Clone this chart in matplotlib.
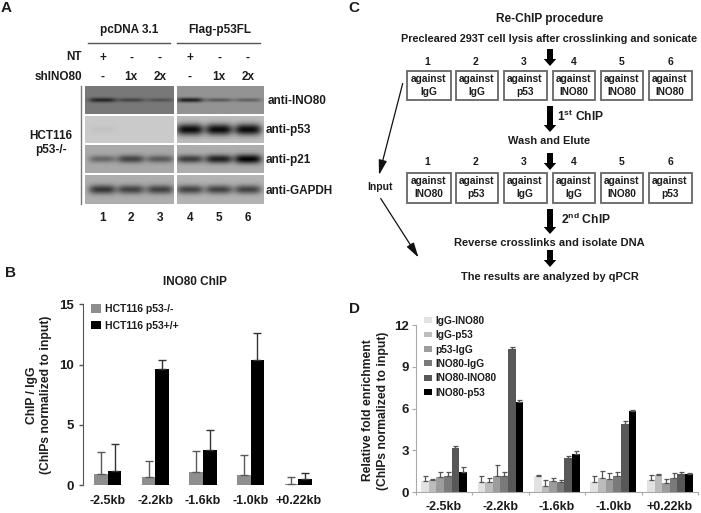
import numpy as np
import matplotlib
matplotlib.use('Agg')
import matplotlib.pyplot as plt
from matplotlib.patches import Rectangle, FancyArrow

plt.rcParams['font.family'] = ['Liberation Sans', 'DejaVu Sans']
plt.rcParams['font.weight'] = 'bold'
plt.rcParams['mathtext.fontset'] = 'custom'
plt.rcParams['mathtext.bf'] = 'Liberation Sans:bold'
plt.rcParams['mathtext.rm'] = 'Liberation Sans:bold'

W, H = 701, 513
TXT = '#1c1c1c'

# ---------- data ----------
sites_b = ['-2.5kb', '-2.2kb', '-1.6kb', '-1.0kb', '+0.22kb']
b_null = [0.9, 0.7, 1.1, 0.85, 0.1]
b_wt = [1.2, 9.65, 2.95, 10.35, 0.5]
b_null_top = [2.75, 2.05, 2.85, 2.5, 0.7]
b_wt_top = [3.45, 10.35, 4.6, 12.6, 1.0]

d_labels = ['IgG-INO80', 'IgG-p53', 'p53-IgG', 'INO80-IgG', 'INO80-INO80', 'INO80-p53']
d_igg_ino = [0.8, 0.75, 1.2, 0.75, 0.9]
d_igg_p53 = [0.85, 0.75, 0.45, 1.0, 1.25]
d_p53_igg = [1.1, 1.2, 0.8, 0.95, 0.7]
d_ino_igg = [1.15, 1.15, 0.75, 1.15, 1.0]
d_ino_ino = [3.15, 10.3, 2.45, 4.9, 1.3]
d_ino_p53 = [1.45, 6.45, 2.75, 5.8, 1.3]
d_igg_ino_top = [1.15, 1.2, 1.25, 1.2, 1.25]
d_igg_p53_top = [0.95, 1.0, 0.85, 1.55, 1.3]
d_p53_igg_top = [1.45, 1.95, 1.05, 1.4, 0.95]
d_ino_igg_top = [1.45, 1.45, 0.85, 1.45, 1.4]
d_ino_ino_top = [3.35, 10.45, 2.6, 5.15, 1.45]
d_ino_p53_top = [1.85, 6.65, 2.95, 5.9, 1.35]

blot_ino80 = [0.8, 0.5, 0.35, 0.9, 0.45, 0.4]
blot_p53 = [0.04, 0.0, 0.0, 1.1, 1.1, 1.1]
blot_p21 = [0.45, 0.7, 0.55, 0.75, 0.95, 1.15]
blot_gapdh = [0.8, 0.72, 0.72, 0.72, 0.72, 0.72]

fig = plt.figure(figsize=(W / 100, H / 100), dpi=100, facecolor='white')


def axpx(x0, y0, x1, y1, **kw):
    return fig.add_axes([x0 / W, 1 - y1 / H, (x1 - x0) / W, (y1 - y0) / H], **kw)


ov = axpx(0, 0, W, H)
ov.set_xlim(0, W)
ov.set_ylim(H, 0)
ov.axis('off')


def T(x, y, s, size=9, ha='center', va='center', **kw):
    ov.text(x, y, s, fontsize=size, ha=ha, va=va, color=TXT, fontweight='bold', **kw)


# ---------- panel letters ----------
for x, y, s in [(6, 8, 'A'), (11, 273, 'B'), (354, 8, 'C'), (354, 309, 'D')]:
    T(x, y, s, size=11)

# ---------- panel A ----------
T(129, 30, 'pcDNA 3.1', 8.5)
T(220, 30, 'Flag-p53FL', 8.5)
ov.plot([88, 170], [43, 43], color='#555555', lw=1)
ov.plot([176.5, 260], [43, 43], color='#555555', lw=1)
T(82, 57.5, 'NT', 8.5, ha='right')
T(82, 77, 'shINO80', 8.5, ha='right')
lanes = [102.5, 131, 160, 190, 219, 248]
for xp, a, b, n in zip(lanes, ['+', '-', '-', '+', '-', '-'],
                       ['-', '1x', '2x', '-', '1x', '2x'], '123456'):
    T(xp, 57.5, a, 8.5)
    T(xp, 77, b, 8.5)
    T(xp, 218, n, 8.5)
ov.plot([80.5, 80.5], [86, 204], color='#777777', lw=1)
T(51, 136, 'HCT116', 8.5)
T(51, 150, 'p53-/-', 8.5)

rows = [(86, 114, blot_ino80, 0.47, 0.58, 2.2, 'anti-INO80', 268),
        (116, 143, blot_p53, 0.79, 0.74, 5.0, 'anti-p53', 266),
        (145, 173, blot_p21, 0.66, 0.68, 4.0, 'anti-p21', 266),
        (175, 204, blot_gapdh, 0.68, 0.70, 4.5, 'anti-GAPDH', 266)]
panels = [(85, 174, 0, 3), (177, 264, 3, 6)]
for y0, y1, vals, bgl, bgr, sig, lab, lx in rows:
    for (x0, x1, i0, i1), bg in zip(panels, (bgl, bgr)):
        xs = np.arange(x0, x1) + 0.5
        ys = np.arange(y0, y1) + 0.5
        gx, gy = np.meshgrid(xs, ys)
        img = np.full(gx.shape, bg, dtype=float)
        yc = (y0 + y1) / 2
        for k in range(i0, i1):
            s = sig * (0.75 + 0.35 * vals[k])
            band = np.exp(-((gx - lanes[k]) / 13.5) ** 4) * np.exp(-((gy - yc) / s) ** 2)
            img -= band * vals[k] * bg * 0.85
        ov.imshow(np.clip(img, 0, 1), extent=(x0, x1, y1, y0), cmap='gray', vmin=0, vmax=1,
                  aspect='auto', interpolation='bilinear')
    T(lx, (y0 + y1) / 2 + 1, lab, 8.5, ha='left')
ov.set_xlim(0, W)
ov.set_ylim(H, 0)

# ---------- panel B ----------
T(195, 282, 'INO80 ChIP', 8.5)
axb = axpx(82.7, 304.3, 322, 485.3)
x = np.arange(len(sites_b))
bw = 0.285
nul = np.array(b_null)
wt = np.array(b_wt)
h1 = axb.bar(x - bw / 2, nul, bw, color='#8e8e8e', label='HCT116 p53-/-',
             yerr=[np.zeros(5), np.array(b_null_top) - nul],
             error_kw=dict(ecolor='#5a5a5a', elinewidth=1, capsize=3.2, capthick=1))
h2 = axb.bar(x + bw / 2, wt, bw, color='#000000', label='HCT116 p53+/+',
             yerr=[np.zeros(5), np.array(b_wt_top) - wt],
             error_kw=dict(ecolor='#333333', elinewidth=1, capsize=3.2, capthick=1))
axb.set_xlim(-0.526, 4.5)
axb.set_ylim(0, 15)
axb.set_yticks([0, 5, 10, 15])
axb.set_xticks(x)
axb.set_xticklabels(sites_b)
axb.tick_params(axis='y', labelsize=9.5, length=3.2, width=1, color='#555555', pad=3)
axb.tick_params(axis='x', labelsize=9, length=0, pad=7)
for s in ('top', 'right', 'bottom'):
    axb.spines[s].set_visible(False)
axb.spines['left'].set_color('#555555')
for t in axb.get_xticklabels() + axb.get_yticklabels():
    t.set_color(TXT)
T(32, 395, 'ChIP / IgG', 8.7, rotation=90)
T(46, 395, '(ChIPs normalized to input)', 8.7, rotation=90)
axb.legend(loc='upper left', bbox_to_anchor=(0.033, 1.0), frameon=False, fontsize=7.5,
           handlelength=0.96, handleheight=0.87, labelspacing=0.6, handletextpad=0.45,
           borderpad=0, borderaxespad=0, labelcolor=TXT)

# ---------- panel C ----------
CX = 549.5
T(CX, 19, 'Re-ChIP procedure', 8.6)
T(CX, 39, 'Precleared 293T cell lysis after crosslinking and sonicate', 7.85)
T(CX, 141, 'Wash and Elute', 7.9)
T(CX, 242.5, 'Reverse crosslinks and isolate DNA', 8.0)
T(CX, 277, 'The results are analyzed by qPCR', 7.9)
T(350 + 620 / 3, 116.5, r'1$^{\mathbf{st}}$ ChIP', 8.7, ha='left')
T(350 + 632 / 3, 219, r'2$^{\mathbf{nd}}$ ChIP', 8.7, ha='left')
T(380, 187, 'Input', 7.5)

box_x = [(407.3, 450.7), (456, 498), (504, 546.7), (552.7, 595), (600.7, 643), (649, 692)]
first = ['IgG', 'IgG', 'p53', 'INO80', 'INO80', 'INO80']
second = ['INO80', 'p53', 'IgG', 'IgG', 'INO80', 'p53']
for (y0, y1, ny, names) in [(71, 100, 62, first), (173, 203, 162, second)]:
    for i, ((a, b), nm) in enumerate(zip(box_x, names)):
        ov.add_patch(Rectangle((a, y0), b - a, y1 - y0, fc='white', ec='#666666', lw=1.3))
        T((a + b) / 2 - 0.5, y0 + 8.5, 'against', 7.3)
        T((a + b) / 2 - 0.5, y0 + 21, nm, 7.3)
        T((a + b) / 2 + (-1 if i < 3 else 0) - 0.5, ny, str(i + 1), 7.5)

for y0, y1 in [(49, 66), (106, 132), (153, 170), (209, 234), (250, 267)]:
    ov.add_patch(FancyArrow(550, y0, 0, y1 - y0, width=6, head_width=12.5, head_length=7,
                            length_includes_head=True, fc='black', ec='none'))
for (a, b), (c, d) in [((402.7, 83.5), (379, 175)), ((380.7, 198.5), (418.5, 257.5))]:
    ov.annotate('', xy=(c, d), xytext=(a, b),
                arrowprops=dict(arrowstyle='-|>,head_length=0.9,head_width=0.25',
                                color='#111111', lw=0.9, shrinkA=0, shrinkB=0))

# ---------- panel D ----------
axd = axpx(415.7, 325, 698, 492.3)
series = [(d_igg_ino, d_igg_ino_top, '#e2e2e2'), (d_igg_p53, d_igg_p53_top, '#bcbcbc'),
          (d_p53_igg, d_p53_igg_top, '#9c9c9c'), (d_ino_igg, d_ino_igg_top, '#7a7a7a'),
          (d_ino_ino, d_ino_ino_top, '#585858'), (d_ino_p53, d_ino_p53_top, '#000000')]
bwd = 0.135
ekd = dict(ecolor='#555555', elinewidth=0.9, capsize=1.8, capthick=0.9)
for i, (v, tp, c) in enumerate(series):
    v = np.array(v)
    axd.bar(x + (i - 2.5) * bwd, v, bwd, color=c, label=d_labels[i],
            yerr=[np.zeros(5), np.array(tp) - v], error_kw=ekd)
axd.set_xlim(-0.5, 4.5)
axd.set_ylim(0, 12)
axd.set_yticks([0, 3, 6, 9, 12])
axd.set_xticks(x)
axd.set_xticklabels(sites_b)
axd.set_xticks(np.arange(-0.5, 5), minor=True)
axd.tick_params(axis='x', which='major', length=0, labelsize=9, pad=6.5)
axd.tick_params(axis='x', which='minor', length=2.5, width=0.8, color='#aaaaaa')
axd.tick_params(axis='y', labelsize=9.5, length=3, width=0.8, color='#aaaaaa', pad=2)
for s in ('top', 'right'):
    axd.spines[s].set_visible(False)
axd.spines['left'].set_color('#aaaaaa')
axd.spines['bottom'].set_color('#aaaaaa')
for t in axd.get_xticklabels() + axd.get_yticklabels():
    t.set_color(TXT)
T(368, 410.5, 'Relative fold enrichment', 8.7, rotation=90)
T(383, 411, '(ChIPs normalized to input)', 8.7, rotation=90)
axd.legend(loc='upper left', bbox_to_anchor=(0.03, 1.055), frameon=False, fontsize=7.3,
           handlelength=0.76, handleheight=0.5, labelspacing=0.43, handletextpad=0.33,
           borderpad=0, borderaxespad=0, labelcolor=TXT)

fig.savefig('out.png', dpi=100, facecolor='white')
